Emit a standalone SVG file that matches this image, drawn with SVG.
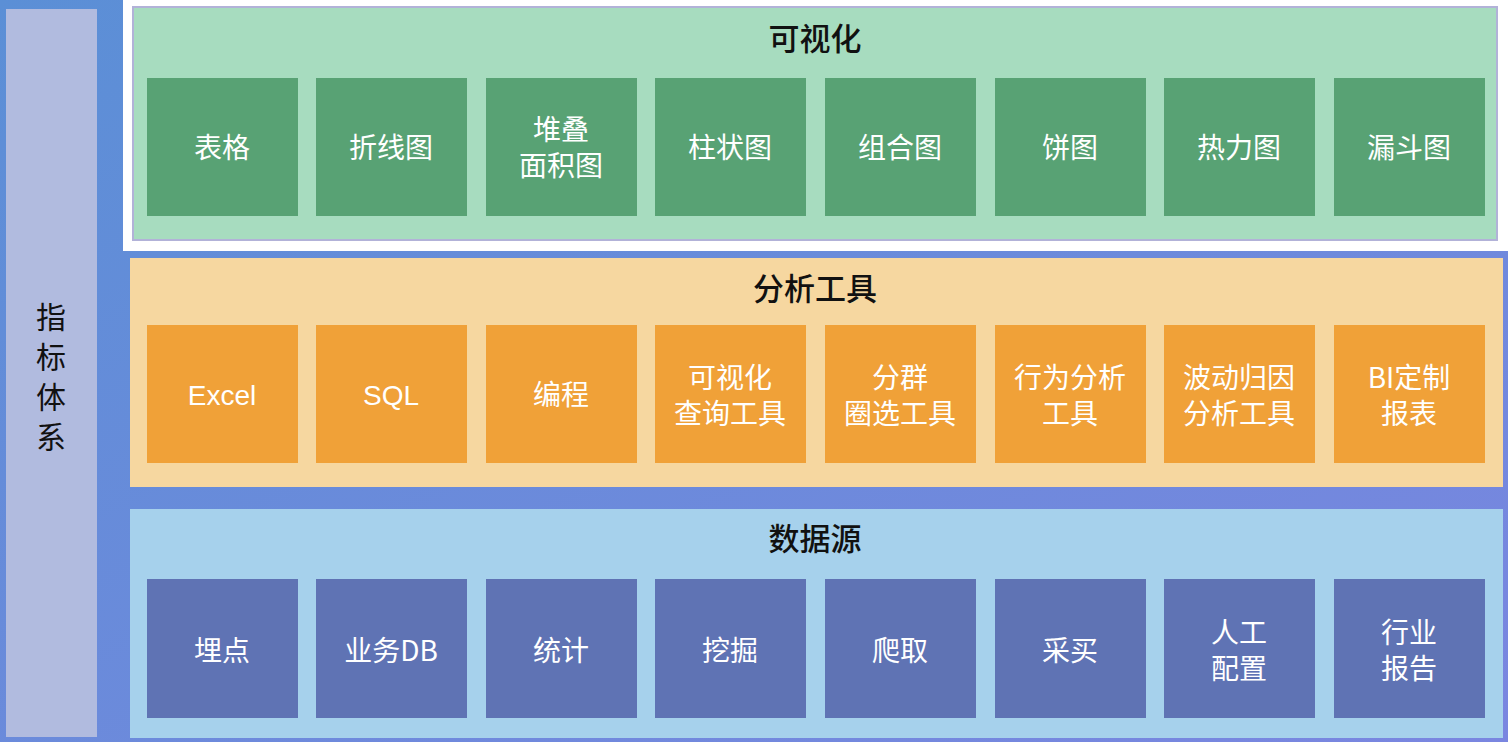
<svg xmlns="http://www.w3.org/2000/svg" width="1508" height="742" viewBox="0 0 1508 742">
<defs>
<linearGradient id="bg" x1="0" y1="0" x2="1" y2="1"><stop offset="0" stop-color="#5b8fd6"/><stop offset="1" stop-color="#7a86e0"/></linearGradient>
<style>
text{font-family:"Noto Sans CJK SC","Liberation Sans",sans-serif;text-anchor:middle}
.t{font-size:31px;fill:#111;font-weight:500}
.b{font-size:28px;fill:#fff}
.l{font-size:30px;fill:#111}
.g{fill:#58a274}.o{fill:#f0a138}.u{fill:#5f73b4}
</style>
</defs>
<rect width="1508" height="742" fill="url(#bg)"/>
<g id="left"><rect x="6" y="9" width="91" height="728" fill="#b1bbdf"/>
<text class="l" x="51" y="328">指</text><text class="l" x="51" y="368">标</text><text class="l" x="51" y="408">体</text><text class="l" x="51" y="448">系</text></g>
<g id="vis">
<rect x="123" y="0" width="1385" height="251" fill="#fff"/>
<rect x="133" y="7" width="1364" height="233" fill="#a7dcbf" stroke="#b2b2d8" stroke-width="2"/>
<text class="t" x="815" y="50">可视化</text>
<g id="v1"><rect class="g" x="147" y="78" width="151" height="138"/><text class="b" x="222" y="158">表格</text></g>
<g id="v2"><rect class="g" x="316" y="78" width="151" height="138"/><text class="b" x="391" y="158">折线图</text></g>
<g id="v3"><rect class="g" x="486" y="78" width="151" height="138"/><text class="b" x="561" y="140">堆叠</text><text class="b" x="561" y="176">面积图</text></g>
<g id="v4"><rect class="g" x="655" y="78" width="151" height="138"/><text class="b" x="730" y="158">柱状图</text></g>
<g id="v5"><rect class="g" x="825" y="78" width="151" height="138"/><text class="b" x="900" y="158">组合图</text></g>
<g id="v6"><rect class="g" x="995" y="78" width="151" height="138"/><text class="b" x="1070" y="158">饼图</text></g>
<g id="v7"><rect class="g" x="1164" y="78" width="151" height="138"/><text class="b" x="1239" y="158">热力图</text></g>
<g id="v8"><rect class="g" x="1334" y="78" width="151" height="138"/><text class="b" x="1409" y="158">漏斗图</text></g>
</g>
<g id="tools">
<rect x="130" y="258" width="1373" height="229" fill="#f6d7a0"/>
<text class="t" x="815" y="300">分析工具</text>
<g id="a1"><rect class="o" x="147" y="325" width="151" height="138"/><text class="b" x="222" y="405" style="font-family:'Liberation Sans',sans-serif">Excel</text></g>
<g id="a2"><rect class="o" x="316" y="325" width="151" height="138"/><text class="b" x="391" y="405" style="font-family:'Liberation Sans',sans-serif">SQL</text></g>
<g id="a3"><rect class="o" x="486" y="325" width="151" height="138"/><text class="b" x="561" y="405">编程</text></g>
<g id="a4"><rect class="o" x="655" y="325" width="151" height="138"/><text class="b" x="730" y="388">可视化</text><text class="b" x="730" y="424">查询工具</text></g>
<g id="a5"><rect class="o" x="825" y="325" width="151" height="138"/><text class="b" x="900" y="388">分群</text><text class="b" x="900" y="424">圈选工具</text></g>
<g id="a6"><rect class="o" x="995" y="325" width="151" height="138"/><text class="b" x="1070" y="388">行为分析</text><text class="b" x="1070" y="424">工具</text></g>
<g id="a7"><rect class="o" x="1164" y="325" width="151" height="138"/><text class="b" x="1239" y="388">波动归因</text><text class="b" x="1239" y="424">分析工具</text></g>
<g id="a8"><rect class="o" x="1334" y="325" width="151" height="138"/><text class="b" x="1409" y="388">BI定制</text><text class="b" x="1409" y="424">报表</text></g>
</g>
<g id="src">
<rect x="130" y="509" width="1373" height="229" fill="#a6d1ec"/>
<text class="t" x="815" y="550">数据源</text>
<g id="s1"><rect class="u" x="147" y="579" width="151" height="139"/><text class="b" x="222" y="661">埋点</text></g>
<g id="s2"><rect class="u" x="316" y="579" width="151" height="139"/><text class="b" x="391" y="661">业务DB</text></g>
<g id="s3"><rect class="u" x="486" y="579" width="151" height="139"/><text class="b" x="561" y="661">统计</text></g>
<g id="s4"><rect class="u" x="655" y="579" width="151" height="139"/><text class="b" x="730" y="661">挖掘</text></g>
<g id="s5"><rect class="u" x="825" y="579" width="151" height="139"/><text class="b" x="900" y="661">爬取</text></g>
<g id="s6"><rect class="u" x="995" y="579" width="151" height="139"/><text class="b" x="1070" y="661">采买</text></g>
<g id="s7"><rect class="u" x="1164" y="579" width="151" height="139"/><text class="b" x="1239" y="643">人工</text><text class="b" x="1239" y="679">配置</text></g>
<g id="s8"><rect class="u" x="1334" y="579" width="151" height="139"/><text class="b" x="1409" y="643">行业</text><text class="b" x="1409" y="679">报告</text></g>
</g>
<g id="connectors"/>
</svg>
